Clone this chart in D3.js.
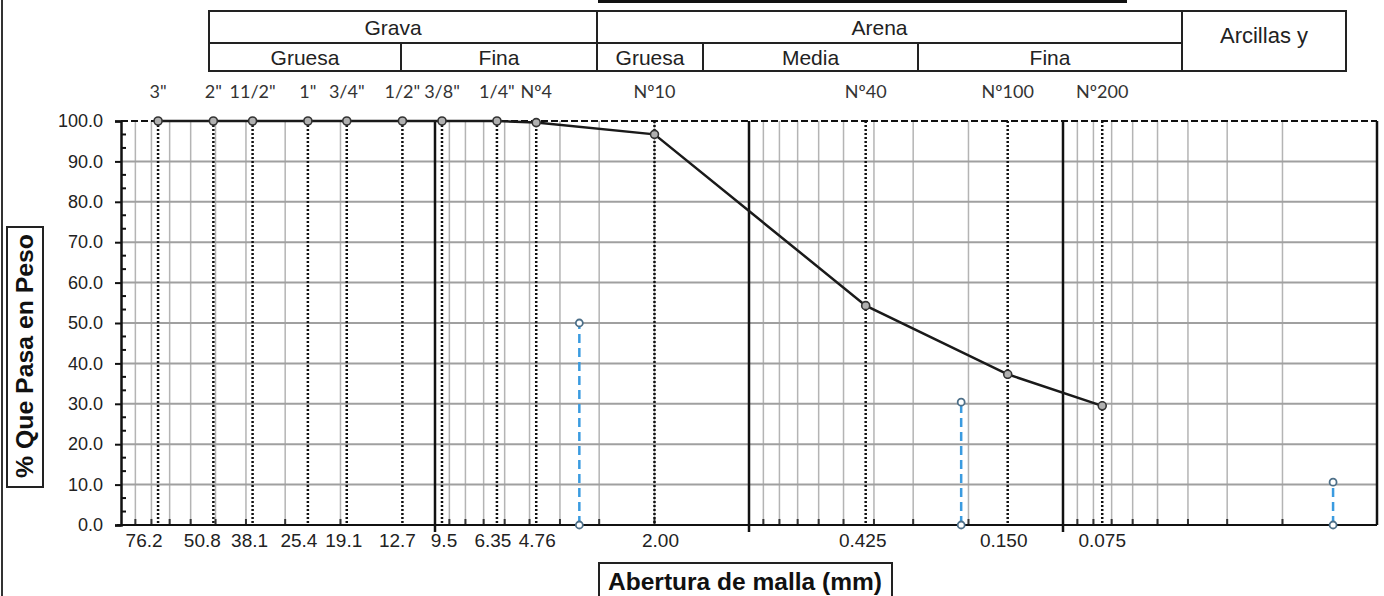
<!DOCTYPE html>
<html>
<head>
<meta charset="utf-8">
<script src="https://cdn.jsdelivr.net/npm/d3@7"></script>
<style>
  html, body { margin: 0; padding: 0; background: #fff; }
  svg { display: block; }
</style>
</head>
<body>
<div id="container"></div>
<script>
const width = 1384;
const height = 596;

// --- Data --------------------------------------------------------------------
// Sieve openings (mm), their names and the cumulative % passing
const sieveSizes = [76.2, 50.8, 38.1, 25.4, 19.1, 12.7, 9.5, 6.35, 4.76, 2.0, 0.425, 0.15, 0.075];
const sieveTickLabels = ["76.2", "50.8", "38.1", "25.4", "19.1", "12.7", "9.5", "6.35", "4.76", "2.00", "0.425", "0.150", "0.075"];
const sieveNames = ['3"', '2"', '11/2"', '1"', '3/4"', '1/2"', '3/8"', '1/4"', "Nº4", "Nº10", "Nº40", "Nº100", "Nº200"];
const percentPassing = [100, 100, 100, 100, 100, 100, 100, 100, 99.6, 96.7, 54.3, 37.3, 29.5];

// Characteristic diameters marked with the blue dashed drop lines
const markSizes = [3.47, 0.211, 0.0138];
const markPercents = [50, 30.4, 10.6];

// Y axis ticks
const yTicks = [0, 10, 20, 30, 40, 50, 60, 70, 80, 90, 100];

// Soil classification header
const groupNames = ["Grava", "Arena", "Arcillas y"];
const subgroupNames = ["Gruesa", "Fina", "Gruesa", "Media", "Fina"];

// --- Layout --------------------------------------------------------------------
const plot = { x0: 121, x1: 1377, y0: 121, y1: 525 };
const table = { x0: 209, x1: 1346, y0: 11, ymid: 43, y1: 71 };
const groupEdges = [209, 597, 1182, 1346];
const subgroupEdges = [209, 401, 597, 703, 918, 1182];
// small nudges so the crowded bottom labels do not collide (as in the sheet)
const labelNudge = [-14, -11, -3, -9, -3, -5, 2, -4, 1, 6, -3, -4, 0];

const x = d3.scaleLog().domain([100, 0.01]).range([plot.x0, plot.x1]);
const y = d3.scaleLinear().domain([0, 100]).range([plot.y1, plot.y0]);

const svg = d3.select("#container").append("svg").attr("width", width).attr("height", height);
const font = "'Liberation Sans', Arial, sans-serif";

// page border on the left and clipped title bar at the top
svg.append("line").attr("x1", 2).attr("x2", 2).attr("y1", 0).attr("y2", height)
  .attr("stroke", "#333").attr("stroke-width", 2);
svg.append("line").attr("x1", 598).attr("x2", 1127).attr("y1", 1.5).attr("y2", 1.5)
  .attr("stroke", "#111").attr("stroke-width", 3);

// --- Header table ----------------------------------------------------------------
const tg = svg.append("g").attr("stroke", "#222").attr("stroke-width", 2).attr("fill", "none");
tg.append("rect").attr("x", table.x0).attr("y", table.y0)
  .attr("width", table.x1 - table.x0).attr("height", table.y1 - table.y0);
tg.append("line").attr("x1", table.x0).attr("x2", groupEdges[2]).attr("y1", table.ymid).attr("y2", table.ymid);
groupEdges.slice(1, 3).forEach((e) => {
  tg.append("line").attr("x1", e).attr("x2", e).attr("y1", table.y0).attr("y2", table.y1);
});
[subgroupEdges[1], subgroupEdges[3], subgroupEdges[4]].forEach((e) => {
  tg.append("line").attr("x1", e).attr("x2", e).attr("y1", table.ymid).attr("y2", table.y1);
});

svg.selectAll("text.group")
  .data(groupNames)
  .join("text")
  .attr("class", "group")
  .attr("x", (d, i) => (groupEdges[i] + groupEdges[i + 1]) / 2 - (i === 2 ? 0 : 10))
  .attr("y", (d, i) => (i === 2 ? 43 : 35))
  .attr("text-anchor", "middle")
  .attr("fill", "#222")
  .style("font-family", font)
  .style("font-size", (d, i) => (i === 2 ? "22px" : "21px"))
  .text((d) => d);

svg.selectAll("text.subgroup")
  .data(subgroupNames)
  .join("text")
  .attr("class", "subgroup")
  .attr("x", (d, i) => (subgroupEdges[i] + subgroupEdges[i + 1]) / 2)
  .attr("y", 65)
  .attr("text-anchor", "middle")
  .attr("fill", "#222")
  .style("font-family", font)
  .style("font-size", "21px")
  .text((d) => d);

// --- Grid -------------------------------------------------------------------------
const minorSizes = [];
[10, 1, 0.1, 0.01].forEach((dec) => {
  for (let k = 2; k <= 9; k++) minorSizes.push(dec * k);
});
const decadeSizes = [10, 1, 0.1];

const grid = svg.append("g");
grid.selectAll("line.vgrid")
  .data(minorSizes)
  .join("line")
  .attr("x1", (d) => x(d)).attr("x2", (d) => x(d))
  .attr("y1", plot.y0).attr("y2", plot.y1)
  .attr("stroke", "#b4b4b4").attr("stroke-width", 1.5);

grid.selectAll("line.hgrid")
  .data(yTicks.filter((d) => d > 0 && d < 100))
  .join("line")
  .attr("x1", plot.x0).attr("x2", plot.x1)
  .attr("y1", (d) => y(d)).attr("y2", (d) => y(d))
  .attr("stroke", "#a0a0a0").attr("stroke-width", 2);

// minor ticks on the x axis
grid.selectAll("line.xminor")
  .data(minorSizes)
  .join("line")
  .attr("x1", (d) => x(d)).attr("x2", (d) => x(d))
  .attr("y1", plot.y1 - 6).attr("y2", plot.y1)
  .attr("stroke", "#333").attr("stroke-width", 2);

// decade separators
grid.selectAll("line.decade")
  .data(decadeSizes)
  .join("line")
  .attr("x1", (d) => x(d)).attr("x2", (d) => x(d))
  .attr("y1", plot.y0).attr("y2", plot.y1 + 7)
  .attr("stroke", "#111").attr("stroke-width", 2.5);

// dotted verticals at each sieve
grid.selectAll("line.sieve")
  .data(sieveSizes)
  .join("line")
  .attr("x1", (d) => x(d)).attr("x2", (d) => x(d))
  .attr("y1", plot.y0).attr("y2", plot.y1)
  .attr("stroke", "#111").attr("stroke-width", 2.5)
  .attr("stroke-dasharray", "2,2");

// --- Frame / axes -----------------------------------------------------------------
svg.append("line").attr("x1", plot.x0).attr("x2", plot.x1).attr("y1", plot.y0).attr("y2", plot.y0)
  .attr("stroke", "#111").attr("stroke-width", 2).attr("stroke-dasharray", "7,3");
svg.append("line").attr("x1", plot.x1).attr("x2", plot.x1).attr("y1", plot.y0).attr("y2", plot.y1)
  .attr("stroke", "#111").attr("stroke-width", 2.5);
svg.append("line").attr("x1", plot.x0 - 4).attr("x2", plot.x1).attr("y1", plot.y1).attr("y2", plot.y1)
  .attr("stroke", "#111").attr("stroke-width", 2);

const yAxis = svg.append("g").attr("transform", `translate(${plot.x0},0)`)
  .call(d3.axisLeft(y).tickValues(yTicks).tickFormat(d3.format(".1f")).tickSize(6).tickPadding(12));
yAxis.select(".domain").attr("stroke", "#111").attr("stroke-width", 2.5);
yAxis.selectAll(".tick line").attr("stroke", "#111").attr("stroke-width", 2);
yAxis.selectAll("text").attr("fill", "#222").style("font-family", font).style("font-size", "18px");

// minor ticks inside the y axis
const yMinor = d3.range(0, 100, 10 / 3).filter((d) => Math.abs(d % 10) > 0.1 && Math.abs(d % 10) < 9.9);
svg.selectAll("line.yminor")
  .data(yMinor)
  .join("line")
  .attr("x1", plot.x0).attr("x2", plot.x0 + 5)
  .attr("y1", (d) => y(d)).attr("y2", (d) => y(d))
  .attr("stroke", "#111").attr("stroke-width", 2);

// sieve size labels below the axis
svg.selectAll("text.xlabel")
  .data(sieveTickLabels)
  .join("text")
  .attr("class", "xlabel")
  .attr("x", (d, i) => x(sieveSizes[i]) + labelNudge[i])
  .attr("y", 547)
  .attr("text-anchor", "middle")
  .attr("fill", "#222")
  .style("font-family", font)
  .style("font-size", "19px")
  .text((d) => d);

// sieve names above the plot
svg.selectAll("text.sname")
  .data(sieveNames)
  .join("text")
  .attr("class", "sname")
  .attr("x", (d, i) => x(sieveSizes[i]))
  .attr("y", 98)
  .attr("text-anchor", "middle")
  .attr("fill", "#333")
  .style("font-family", "Lato, 'Open Sans', sans-serif")
  .style("font-size", "18px")
  .text((d) => d);

// --- Characteristic diameter markers ----------------------------------------------
const marks = markSizes.map((s, i) => ({ s, p: markPercents[i] }));
svg.selectAll("line.mark")
  .data(marks)
  .join("line")
  .attr("x1", (d) => x(d.s)).attr("x2", (d) => x(d.s))
  .attr("y1", y(0)).attr("y2", (d) => y(d.p))
  .attr("stroke", "#3a9be0").attr("stroke-width", 2.5)
  .attr("stroke-dasharray", "9,5");
svg.selectAll("circle.mark")
  .data(marks.flatMap((d) => [{ s: d.s, p: 0 }, d]))
  .join("circle")
  .attr("cx", (d) => x(d.s)).attr("cy", (d) => y(d.p))
  .attr("r", 3.5)
  .attr("fill", "#fff").attr("stroke", "#4d6f88").attr("stroke-width", 1.8);

// --- Gradation curve ----------------------------------------------------------------
const pts = sieveSizes.map((s, i) => ({ s, p: percentPassing[i] }));
svg.append("path")
  .datum(pts)
  .attr("fill", "none")
  .attr("stroke", "#1a1a1a")
  .attr("stroke-width", 2.5)
  .attr("d", d3.line().x((d) => x(d.s)).y((d) => y(d.p)));
svg.selectAll("circle.pt")
  .data(pts)
  .join("circle")
  .attr("cx", (d) => x(d.s)).attr("cy", (d) => y(d.p))
  .attr("r", 4)
  .attr("fill", "#b0b0b0").attr("stroke", "#333").attr("stroke-width", 1.6);

// --- Axis titles -------------------------------------------------------------------
svg.append("rect").attr("x", 599).attr("y", 563).attr("width", 293).attr("height", 40)
  .attr("fill", "none").attr("stroke", "#222").attr("stroke-width", 2);
svg.append("text")
  .attr("x", 745).attr("y", 590)
  .attr("text-anchor", "middle")
  .attr("fill", "#111")
  .attr("textLength", 274).attr("lengthAdjust", "spacingAndGlyphs")
  .style("font-family", font).style("font-size", "23px").style("font-weight", "700")
  .text("Abertura de malla (mm)");

svg.append("rect").attr("x", 7).attr("y", 227).attr("width", 36).attr("height", 260)
  .attr("fill", "none").attr("stroke", "#222").attr("stroke-width", 2);
svg.append("text")
  .attr("transform", "translate(33,356) rotate(-90)")
  .attr("text-anchor", "middle")
  .attr("fill", "#111")
  .attr("textLength", 244).attr("lengthAdjust", "spacingAndGlyphs")
  .style("font-family", font).style("font-size", "23px").style("font-weight", "700")
  .text("% Que Pasa en Peso");
</script>
</body>
</html>
